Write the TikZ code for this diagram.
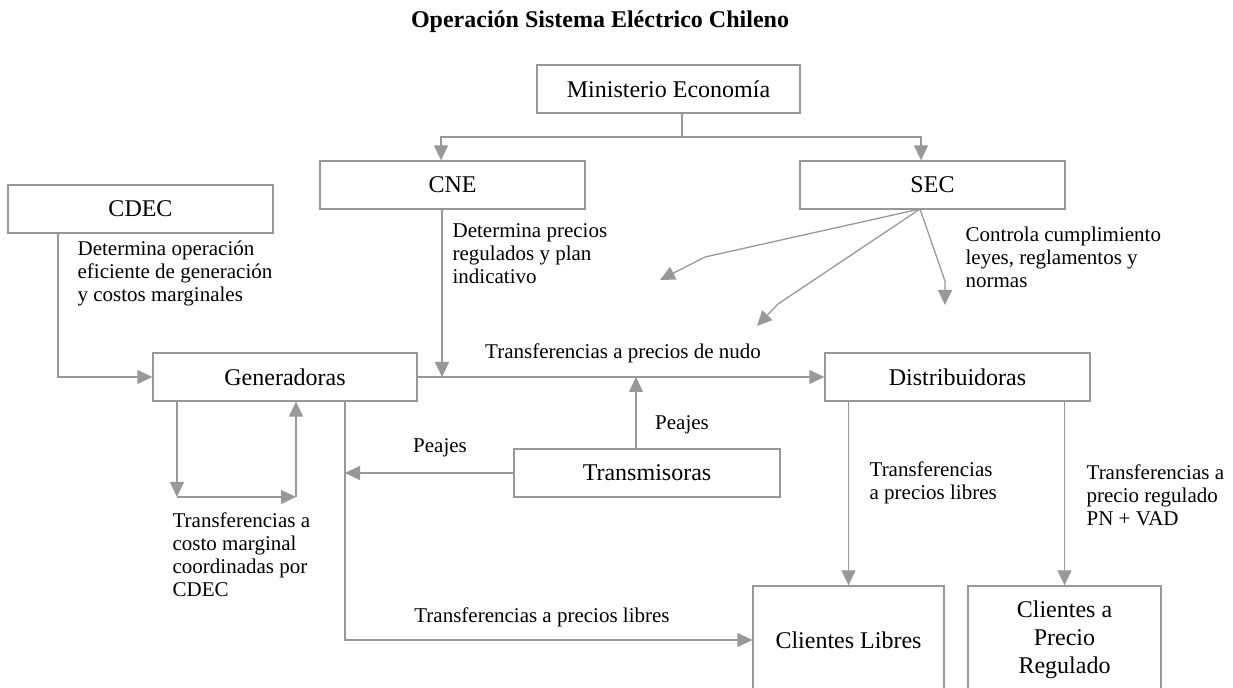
\documentclass[tikz,border=0pt]{standalone}
\usepackage{fontspec}
\setmainfont{Liberation Serif}
\usetikzlibrary{arrows.meta}
\definecolor{linegray}{RGB}{152,152,152}

\begin{document}
\begin{tikzpicture}[x=0.5pt, y=-0.5pt, line width=0.65pt,
    box/.style={draw=linegray, rectangle, inner sep=0pt, align=center, font=\fontsize{12}{14}\selectfont},
    lbl/.style={inner sep=0pt, align=left, font=\fontsize{10.5}{11.5}\selectfont},
    line/.style={draw=linegray},
    flow/.style={draw=linegray, -{Triangle[length=7.5pt, width=7pt]}}]
        \useasboundingbox (0,0) rectangle (1233,688);

        \node[font=\fontsize{12}{14}\selectfont\bfseries] (title) at (600,22) {Operación Sistema Eléctrico Chileno};

        % boxes
        \node[box, minimum width=131.5pt, minimum height=24pt] (minis) at (668.5,89) {Ministerio Economía};
        \node[box, minimum width=132.5pt, minimum height=24pt] (cne) at (452.5,185) {CNE};
        \node[box, minimum width=132.5pt, minimum height=24pt] (sec) at (932.5,185) {SEC};
        \node[box, minimum width=132.5pt, minimum height=24pt] (cdec) at (140.5,209) {CDEC};
        \node[box, minimum width=132pt, minimum height=24pt] (gen) at (285,377) {Generadoras};
        \node[box, minimum width=132.5pt, minimum height=24pt] (dist) at (957.5,377) {Distribuidoras};
        \node[box, minimum width=133pt, minimum height=24pt] (trans) at (647,473) {Transmisoras};
        \node[box, minimum width=95.5pt, minimum height=54pt] (clib) at (848.5,640) {Clientes Libres};
        \node[box, minimum width=96.5pt, minimum height=54pt] (creg) at (1064.5,640) {Clientes a\\Precio\\Regulado};

        % labels
        \node[lbl, anchor=west] (cdecTxt) at (77,273) {Determina operación\\eficiente de generación\\y costos marginales};
        \node[lbl, anchor=west] (cneTxt) at (452,254) {Determina precios\\regulados y plan\\indicativo};
        \node[lbl, anchor=west] (secTxt) at (965,257) {Controla cumplimiento\\leyes, reglamentos y\\normas};
        \node[lbl] (nudoTxt) at (623,353) {Transferencias a precios de nudo};
        \node[lbl] (peajeUp) at (682,425) {Peajes};
        \node[lbl] (peajeLeft) at (440,448) {Peajes};
        \node[lbl, anchor=west] (loopTxt) at (172,555) {Transferencias a\\costo marginal\\coordinadas por\\CDEC};
        \node[lbl] (libresTxt) at (542,617) {Transferencias a precios libres};
        \node[lbl, anchor=west] (distTxtA) at (869,483) {Transferencias\\a precios libres};
        \node[lbl, anchor=west] (distTxtB) at (1086,495) {Transferencias a\\precio regulado\\PN + VAD};

        % corner points
        \coordinate (mj) at (682,137);
        \coordinate (mjL) at (441,137);
        \coordinate (mjR) at (921,137);
        \coordinate (cdecTurn) at (58,377);
        \coordinate (cneHit) at (442,377);
        \coordinate (transHit) at (636,377);
        \coordinate (genCorner) at (345,640);
        \coordinate (loopA) at (177,497);
        \coordinate (loopB) at (296,497);
        \coordinate (secOut) at (920,209);

        % ministerio
        \draw[line] (minis.south -| mj) -- (mj);
        \draw[flow] (mj) -| (cne.north -| mjL);
        \draw[flow] (mj) -| (sec.north -| mjR);

        % cdec, cne
        \draw[flow] (cdec.south -| cdecTurn) -- (cdecTurn) -- (gen.west);
        \draw[flow] (cne.south -| cneHit) -- (cneHit);

        % sec
        \draw[flow] (secOut) -- (705,257) -- (660,280);
        \draw[flow] (secOut) -- (778,304) -- (757,326);
        \draw[flow] (secOut) -- (945,281) -- (945,305);

        % generadoras
        \draw[flow] (gen.east) -- (dist.west);
        \draw[flow] (gen.south -| loopA) -- (loopA);
        \draw[flow] (loopA) -- (loopB);
        \draw[flow] (loopB) -- (gen.south -| loopB);
        \draw[flow] (gen.south -| genCorner) -- (genCorner) -- (clib.west);

        % transmisoras
        \draw[flow] (trans.north -| transHit) -- (transHit);
        \draw[flow] (trans.west) -- (trans.west -| genCorner);

        % distribuidoras
        \draw[flow] (dist.south -| clib.north) -- (clib.north);
        \draw[flow] (dist.south -| creg.north) -- (creg.north);
    \end{tikzpicture}
\end{document}
